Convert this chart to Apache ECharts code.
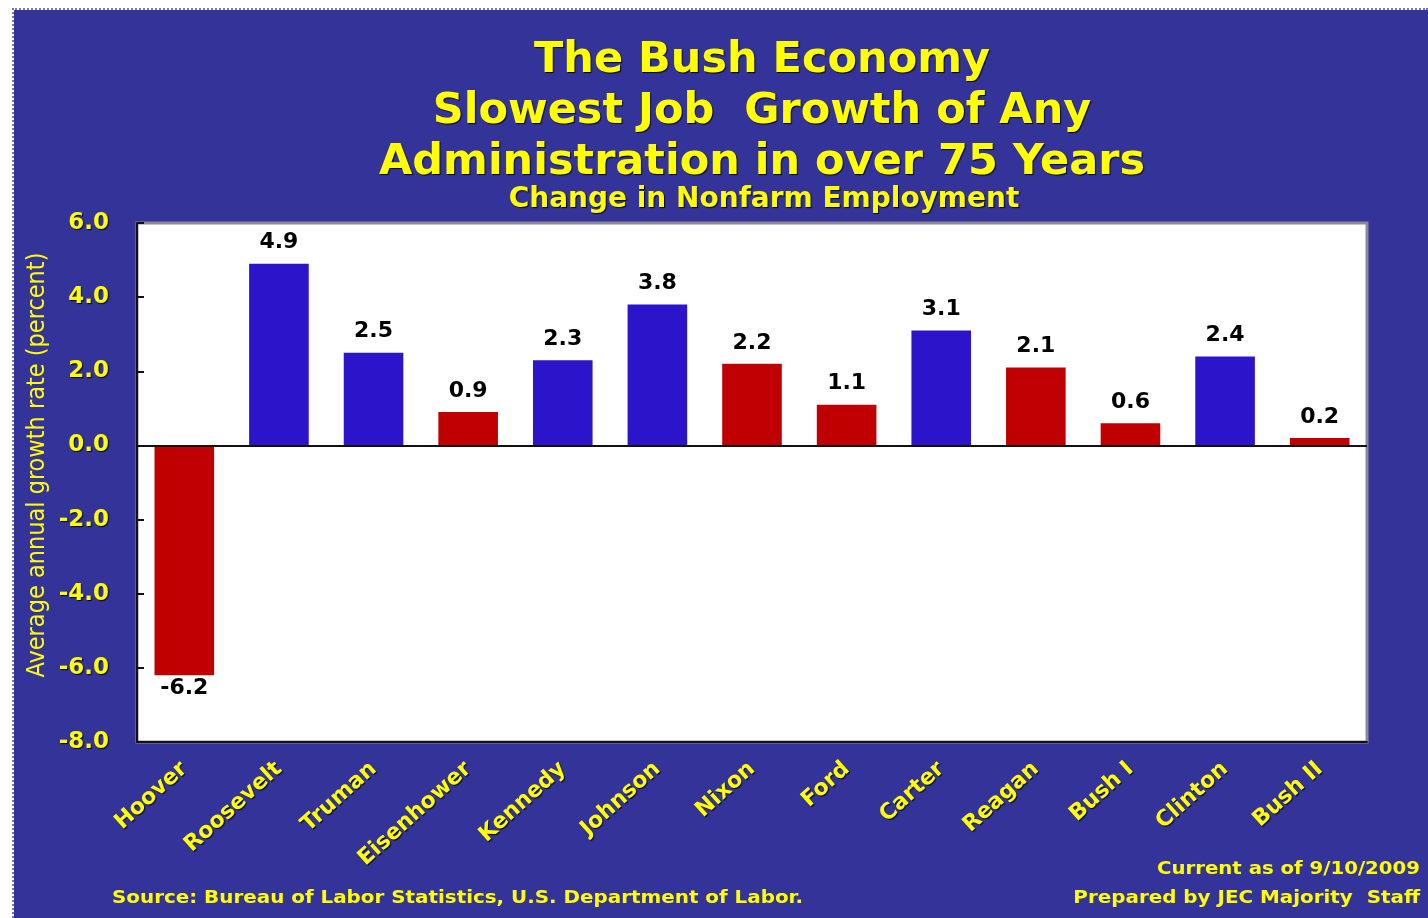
<!DOCTYPE html>
<html>
<head>
<meta charset="utf-8">
<script src="https://cdn.jsdelivr.net/npm/echarts@6/dist/echarts.min.js"></script>
<style>
  html, body { margin: 0; padding: 0; background: #ffffff; }
  #wrap { position: absolute; left: 0; top: 0; width: 1428px; height: 918px; background: #ffffff; }
  #chart { position: absolute; left: 12px; top: 8px; width: 1416px; height: 910px;
           border-left: 2px dotted #7777bb; border-top: 2px dotted #7777bb; box-sizing: border-box; }
</style>
</head>
<body>
<div id="wrap"><div id="chart"></div></div>
<script>
// Presidents, in order of administration
const presidents = ['Hoover', 'Roosevelt', 'Truman', 'Eisenhower', 'Kennedy', 'Johnson',
  'Nixon', 'Ford', 'Carter', 'Reagan', 'Bush I', 'Clinton', 'Bush II'];
// Average annual growth rate of nonfarm employment (percent)
const growthRates = [-6.2, 4.9, 2.5, 0.9, 2.3, 3.8, 2.2, 1.1, 3.1, 2.1, 0.6, 2.4, 0.2];
// Party of each administration: R = Republican, D = Democrat
const parties = ['R', 'D', 'D', 'R', 'D', 'D', 'R', 'R', 'D', 'R', 'R', 'D', 'R'];

const titleLines = ['The Bush Economy', 'Slowest Job  Growth of Any', 'Administration in over 75 Years'];
const subtitle = 'Change in Nonfarm Employment';
const yAxisTitle = 'Average annual growth rate (percent)';
const sourceNote = 'Source: Bureau of Labor Statistics, U.S. Department of Labor.';
const dateNote = 'Current as of 9/10/2009';
const staffNote = 'Prepared by JEC Majority  Staff';

const partyColor = { R: '#c00000', D: '#2b14c9' };
const yellow = '#ffff00';
const wide = '"DejaVu Sans", Verdana, sans-serif';
const narrow = '"DejaVu Sans Condensed", "DejaVu Sans", sans-serif';
const shadow = { textShadowColor: 'rgba(0,0,0,0.9)', textShadowBlur: 1, textShadowOffsetX: 1, textShadowOffsetY: 1 };
const noteStyle = (t, align) => ({
  text: t, x: 0, y: 0, textAlign: align, textVerticalAlign: 'middle',
  fill: yellow, font: 'bold 17px ' + wide,
  shadowColor: '#000', shadowBlur: 1, shadowOffsetX: 1, shadowOffsetY: 1
});

const chart = echarts.init(document.getElementById('chart'));
chart.setOption({
  backgroundColor: '#333399',
  animation: false,
  title: [
    {
      text: titleLines.join('\n'),
      left: 743, top: 20, textAlign: 'center',
      textStyle: Object.assign({ color: yellow, fontFamily: wide, fontWeight: 'bold', fontSize: 43, lineHeight: 51 }, shadow)
    },
    {
      text: subtitle,
      left: 745, top: 171, textAlign: 'center',
      textStyle: Object.assign({ color: yellow, fontFamily: wide, fontWeight: 'bold', fontSize: 28 }, shadow)
    }
  ],
  graphic: [
    { type: 'text', x: 98, y: 889, scaleX: 1.17, style: noteStyle(sourceNote, 'left') },
    { type: 'text', x: 1406, y: 860, scaleX: 1.16, style: noteStyle(dateNote, 'right') },
    { type: 'text', x: 1406, y: 889, scaleX: 1.17, style: noteStyle(staffNote, 'right') },
    {
      type: 'text', x: 23, y: 455, rotation: Math.PI / 2,
      style: {
        text: yAxisTitle, x: 0, y: 0, textAlign: 'center', textVerticalAlign: 'middle',
        fill: yellow, font: '25px ' + narrow,
        shadowColor: '#000', shadowBlur: 1, shadowOffsetX: 1, shadowOffsetY: 1
      }
    }
  ],
  grid: {
    left: 123, top: 213, right: 61, bottom: 176,
    show: true, backgroundColor: '#ffffff', borderColor: '#8a8a9a', borderWidth: 3,
    containLabel: false
  },
  xAxis: {
    type: 'category',
    data: presidents,
    axisLine: { onZero: false, lineStyle: { color: '#111', width: 2 } },
    axisTick: { show: false },
    axisLabel: Object.assign({
      color: yellow, rotate: 42, margin: 24, interval: 0,
      fontFamily: wide, fontWeight: 'bold', fontSize: 22
    }, shadow)
  },
  yAxis: {
    type: 'value',
    min: -8, max: 6, interval: 2,
    axisLine: { show: true, lineStyle: { color: '#111', width: 2 } },
    axisTick: { show: true, inside: true, length: 7, lineStyle: { color: '#111', width: 2 } },
    splitLine: { show: false },
    axisLabel: Object.assign({
      color: yellow, margin: 28, fontFamily: wide, fontWeight: 'bold', fontSize: 23,
      formatter: v => v.toFixed(1)
    }, shadow)
  },
  series: [{
    type: 'bar',
    barWidth: '63%',
    data: growthRates.map((v, i) => ({
      value: v,
      itemStyle: { color: partyColor[parties[i]] },
      // negative values carry their label beneath the bar
      label: v < 0 ? { position: 'bottom', distance: 2 } : {}
    })),
    label: {
      show: true,
      position: 'top',
      distance: 10,
      color: '#000', fontFamily: wide, fontWeight: 'bold', fontSize: 22,
      formatter: p => p.value.toFixed(1)
    },
    markLine: {
      silent: true, symbol: 'none', label: { show: false },
      lineStyle: { color: '#111', width: 2, type: 'solid' },
      data: [{ yAxis: 0 }]
    }
  }]
});
</script>
</body>
</html>
